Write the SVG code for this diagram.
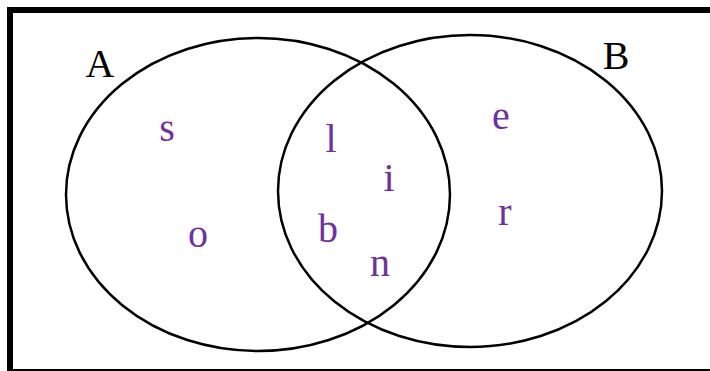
<svg xmlns="http://www.w3.org/2000/svg" width="710" height="371" viewBox="0 0 710 371">
<style>
.set{fill:none;stroke:#000;stroke-width:2.5}
.lbl{font-family:"Liberation Serif","Times New Roman",serif;font-size:40px;fill:#000;text-anchor:middle}
.el{font-family:"Liberation Serif","Times New Roman",serif;font-size:40px;fill:#7030A0;text-anchor:middle}
</style>
<rect x="10" y="10" width="710" height="362" fill="#fff" stroke="#000" stroke-width="6"/>
<g id="setA">
<ellipse class="set" cx="258" cy="194.5" rx="192" ry="156.5"/>
<text class="lbl" x="100" y="77">A</text>
</g>
<g id="setB">
<ellipse class="set" cx="470" cy="191" rx="192" ry="156"/>
<text class="lbl" x="616" y="69">B</text>
</g>
<g id="connectors"></g>
<g id="elements">
<text class="el" x="167" y="141">s</text>
<text class="el" x="198" y="247">o</text>
<text class="el" x="331" y="152">l</text>
<text class="el" x="389" y="191">i</text>
<text class="el" x="328" y="242">b</text>
<text class="el" x="380" y="276">n</text>
<text class="el" x="501" y="129">e</text>
<text class="el" x="505" y="225">r</text>
</g>
</svg>
